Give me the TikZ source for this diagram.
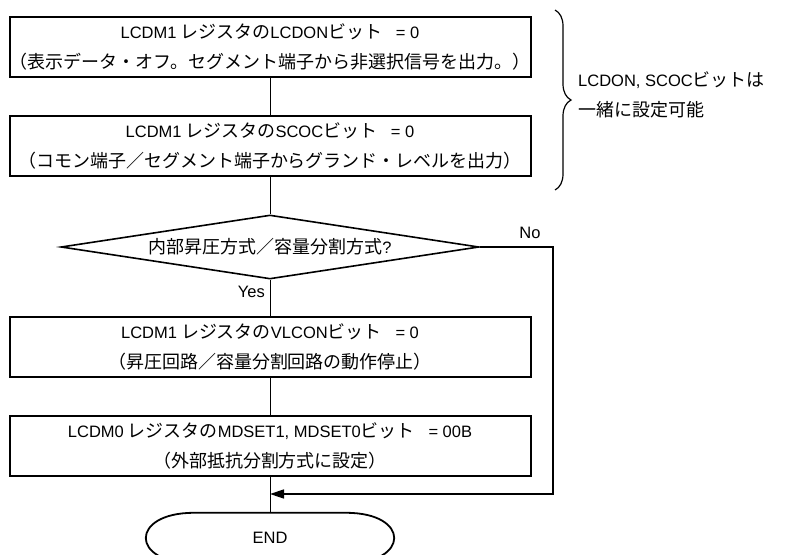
\documentclass[tikz,border=0pt]{standalone}
\usepackage{fontspec}
\setmainfont{Liberation Sans}
\newfontfamily\jp{Noto Sans CJK JP}[Scale=1.09]
\usetikzlibrary{shapes.geometric,arrows.meta,decorations.pathreplacing}
\newcommand\jgap{\hspace{4pt}}
\begin{document}
\begin{tikzpicture}[x=1pt,y=-1pt,
  every node/.style={font=\fontsize{16.5}{30}\selectfont},
  procbox/.style={draw, line width=2pt, minimum width=521pt, minimum height=60pt, inner sep=0pt, align=center},
  decbox/.style={diamond, draw, line width=1.6pt, aspect=6.56, minimum width=418pt, minimum height=64pt, inner sep=0pt},
  conn/.style={line width=0.8pt},
  retline/.style={line width=1.6pt, -{Triangle[length=14pt,width=9pt]}},
  lbl/.style={inner sep=0pt}]
\useasboundingbox (0,0) rectangle (791,554);

\node[procbox] (b1) at (270,47) {LCDM1\jgap{\jp レジスタの}LCDON{\jp ビット}\ \ \ = 0\\{\jp （表示データ・オフ。セグメント端子から非選択信号を出力。）}};
\node[procbox] (b2) at (270,146) {LCDM1\jgap{\jp レジスタの}SCOC{\jp ビット}\ \ \ = 0\\{\jp （コモン端子／セグメント端子からグランド・レベルを出力）}};
\node[decbox] (dec) at (270,247) {{\jp 内部昇圧方式／容量分割方式}?};
\node[procbox] (b3) at (270,347) {LCDM1\jgap{\jp レジスタの}VLCON{\jp ビット}\ \ \ = 0\\{\jp （昇圧回路／容量分割回路の動作停止）}};
\node[procbox] (b4) at (270,446) {LCDM0\jgap{\jp レジスタの}MDSET1, MDSET0{\jp ビット}\ \ \ = 00B\\{\jp （外部抵抗分割方式に設定）}};
\node[minimum width=248pt, minimum height=50pt, inner sep=0pt] (end) at (270,538) {END};
\draw[line width=1.8pt] ([xshift=48pt]end.north west) -- ([xshift=-48pt]end.north east)
  .. controls ([xshift=16pt]end.north east) and ([xshift=16pt]end.south east) .. ([xshift=-48pt]end.south east)
  -- ([xshift=48pt]end.south west)
  .. controls ([xshift=-16pt]end.south west) and ([xshift=-16pt]end.north west) .. cycle;

\coordinate (c2) at (553,494);
\coordinate (merge) at (b4.south |- c2);

\draw[conn] (b1.south) -- (b2.north);
\draw[conn] (b2.south) -- (dec.north);
\draw[conn] (dec.south) -- (b3.north);
\draw[conn] (b3.south) -- (b4.north);
\draw[conn] (b4.south) -- (end.north);
\draw[retline] (dec.east) -| (c2) -- (merge);

\node[lbl] (no) at (530,233) {No};
\node[lbl, anchor=east] (yes) at (265,292) {Yes};

\coordinate (bt) at (555,10);
\coordinate (bb) at (555,190);
\draw[line width=1.2pt, decorate, decoration={brace, amplitude=16pt}] (bt) -- (bb);
\node[lbl, anchor=west] (n1) at (578,80) {LCDON, SCOC{\jp ビットは}};
\node[lbl, anchor=west] (n2) at (578,110) {{\jp 一緒に設定可能}};
\end{tikzpicture}
\end{document}
